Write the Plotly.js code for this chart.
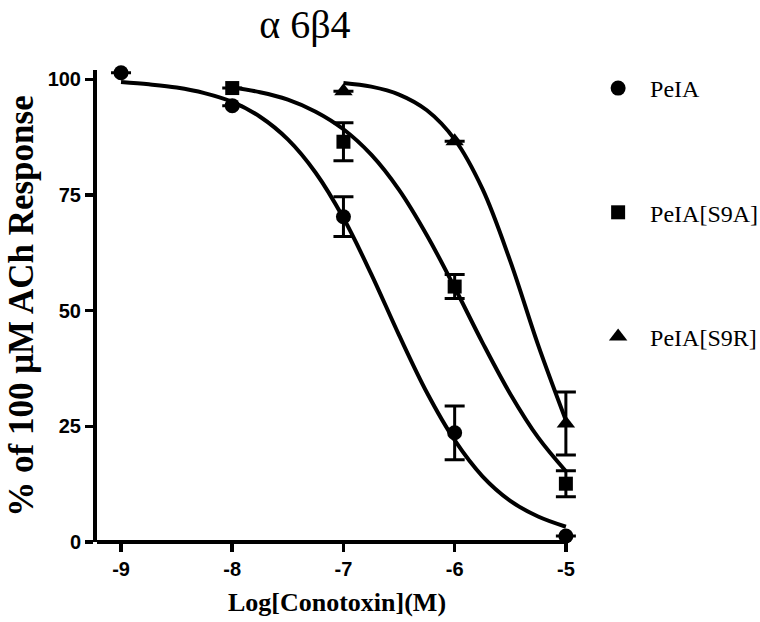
<!DOCTYPE html>
<html>
<head>
<meta charset="utf-8">
<script src="https://cdn.plot.ly/plotly-3.0.1.min.js"></script>
<style>html,body{margin:0;padding:0;background:#fff;}#chart{width:760px;height:622px;}</style>
</head>
<body>
<div id="chart"></div>
<script>
// Measured points (mean ± SEM), % of 100 µM ACh response
var peiaX = [-9, -8, -7, -6, -5];
var peiaY = [101.4, 94.3, 70.3, 23.6, 1.3];
var peiaErr = [null, null, 4.3, 5.8, null];

var s9aX = [-8, -7, -6, -5];
var s9aY = [98.1, 86.5, 55.2, 12.6];
var s9aErr = [null, 4.1, 2.6, 2.8];

var s9rX = [-7, -6, -5];
var s9rY = [97.4, 86.6, 25.6];
var s9rErr = [null, null, 6.8];

// Fitted curves
var peiaCurveX = [-9, -8.75, -8.5, -8.25, -8, -7.75, -7.5, -7.25, -7, -6.75, -6.5, -6.25, -6, -5.75, -5.5, -5.25, -5];
var peiaCurveY = [99.4, 98.9, 98.2, 97.0, 95.1, 91.9, 87.0, 79.8, 70.0, 57.9, 44.7, 32.3, 22.0, 14.2, 8.9, 5.5, 3.3];

var s9aCurveX = [-8, -7.75, -7.5, -7.25, -7, -6.75, -6.5, -6.25, -6, -5.75, -5.5, -5.25, -5];
var s9aCurveY = [98.2, 97.2, 95.6, 93.0, 89.2, 83.7, 76.1, 66.3, 55.0, 43.1, 32.0, 22.6, 15.3];

var s9rCurveX = [-7, -6.75, -6.5, -6.25, -6, -5.75, -5.5, -5.25, -5];
var s9rCurveY = [99.2, 98.4, 96.7, 93.3, 87.0, 76.3, 60.7, 42.6, 26.3];

var seriesNames = ['PeIA', 'PeIA[S9A]', 'PeIA[S9R]'];
var xTickVals = [-9, -8, -7, -6, -5];
var xTickText = ['-9', '-8', '-7', '-6', '-5'];
var yTickVals = [0, 25, 50, 75, 100];
var yTickText = ['0', '25', '50', '75', '100'];
var xStart = -9.216, xEnd = -5;

var NB = '\u00a0\u00a0';

function curve(x, y) {
  return {x: x, y: y, type: 'scatter', mode: 'lines', showlegend: false, hoverinfo: 'skip',
          line: {color: '#000', width: 4, shape: 'spline', smoothing: 1}, cliponaxis: false};
}
function pts(x, y, err, name, symbol, size, group) {
  return {x: x, y: y, type: 'scatter', mode: 'markers', name: NB + name, legendgroup: group,
          cliponaxis: false,
          marker: {symbol: symbol, size: size, color: '#000'},
          error_y: {type: 'data', array: err, visible: true, color: '#000', thickness: 3, width: 10}};
}

var traces = [
  curve(peiaCurveX, peiaCurveY),
  curve(s9aCurveX, s9aCurveY),
  curve(s9rCurveX, s9rCurveY),
  pts(peiaX, peiaY, peiaErr, seriesNames[0], 'circle', 15, 'a'),
  pts(s9aX, s9aY, s9aErr, seriesNames[1], 'square', 14, 'b'),
  pts(s9rX, s9rY, s9rErr, seriesNames[2], 'triangle-up', 16, 'c')
];

var layout = {
  width: 760, height: 622,
  margin: {l: 97, r: 183, t: 70, b: 80},
  paper_bgcolor: '#fff', plot_bgcolor: '#fff',
  showlegend: true,
  title: {text: 'α 6β4', font: {family: 'Liberation Serif, serif', size: 40, color: '#000'},
          xref: 'paper', x: 0.433, xanchor: 'center', yref: 'container', y: 0.962, yanchor: 'middle'},
  xaxis: {
    range: [xStart, -4.9], showgrid: false, zeroline: false,
    showline: false,
    ticks: 'outside', ticklen: 9, tickwidth: 3.5, tickcolor: '#000',
    tickvals: xTickVals, ticktext: xTickText,
    tickfont: {family: 'Liberation Sans, Arial, sans-serif', size: 20, color: '#000', weight: 'bold'},
    title: {text: 'Log[Conotoxin](M)', standoff: 13,
            font: {family: 'Liberation Serif, serif', size: 26, color: '#000', weight: 'bold'}}
  },
  yaxis: {
    range: [0, 102], showgrid: false, zeroline: false,
    showline: true, linecolor: '#000', linewidth: 4,
    ticks: 'outside', ticklen: 8, tickwidth: 3.5, tickcolor: '#000',
    tickvals: yTickVals, ticktext: yTickText,
    tickfont: {family: 'Liberation Sans, Arial, sans-serif', size: 20, color: '#000', weight: 'bold'},
    title: {text: '% of 100 μM ACh Response', standoff: 4,
            font: {family: 'Liberation Serif, serif', size: 35, color: '#000', weight: 'bold'}}
  },
  shapes: [
    {type: 'line', xref: 'x', yref: 'paper', x0: xStart - 0.036, x1: xEnd + 0.01, y0: 0, y1: 0,
     line: {color: '#000', width: 4}, layer: 'above'}
  ],
  legend: {
    xref: 'container', yref: 'container', x: 0.787, y: 1 - 66 / 622, xanchor: 'left', yanchor: 'top',
    traceorder: 'grouped', tracegroupgap: 90, bgcolor: 'rgba(0,0,0,0)',
    font: {family: 'Liberation Serif, serif', size: 24, color: '#000'}
  }
};

Plotly.newPlot('chart', traces, layout, {displayModeBar: false, staticPlot: true});
</script>
</body>
</html>
